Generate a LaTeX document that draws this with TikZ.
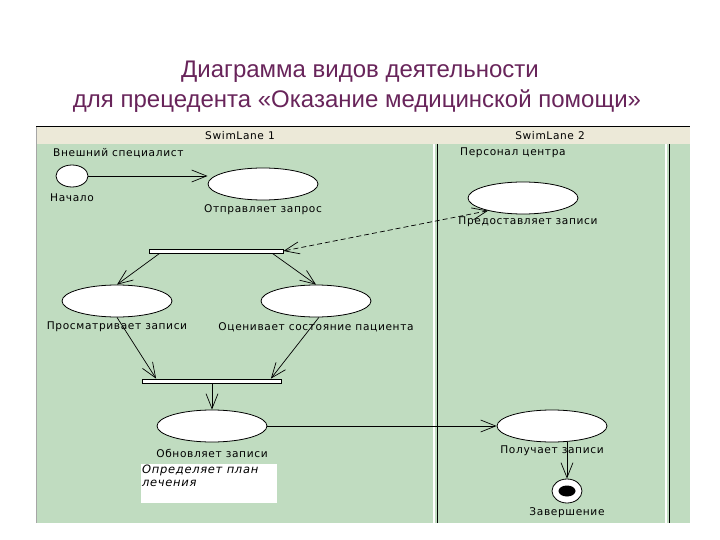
\documentclass[tikz,border=0pt]{standalone}
\usepackage{fontspec}
\setmainfont{Liberation Sans}
\newfontfamily\lanefont[LetterSpace=6]{DejaVu Sans}
\usetikzlibrary{arrows.meta, shapes.geometric, positioning, calc}
\definecolor{lanegreen}{RGB}{192,220,192}
\definecolor{headbeige}{RGB}{236,233,216}
\definecolor{titleplum}{RGB}{104,36,90}

\begin{document}
\begin{tikzpicture}[x=1pt, y=-1pt,
    activity/.style={ellipse, draw, fill=white, line width=0.8pt, minimum width=110pt, minimum height=32pt, inner sep=0pt},
    syncbar/.style={rectangle, draw, fill=white, line width=0.8pt, minimum height=4pt, inner sep=0pt},
    lbl/.style={font=\lanefont\fontsize{10.6}{12}\selectfont, inner sep=0pt},
    flow/.style={-{Straight Barb[length=15pt,width=12pt]}, line width=0.7pt}]
  \useasboundingbox (0,0) rectangle (720,540);
  % title
  \node[text=titleplum, font=\fontsize{24}{28}\selectfont, anchor=base] (title1) at (360,78) {Диаграмма видов деятельности};
  \node[text=titleplum, font=\fontsize{24}{28}\selectfont, anchor=base] (title2) at (357,108) {для прецедента «Оказание медицинской помощи»};
  % swimlanes
  \fill[lanegreen] (36,144) rectangle (690,523);
  \fill[headbeige] (36,127) rectangle (690,144);
  \draw[line width=1pt] (36,127) -- (690,127);
  \draw[gray!70] (36,127) -- (36,523);
  \foreach \x in {434, 666} \draw[white, line width=1.5pt] (\x,144) -- (\x,523);
  \foreach \x in {437, 669} \draw[line width=0.9pt] (\x,144) -- (\x,523);
  \node[lbl] (lane1) at (240,136) {SwimLane 1};
  \node[lbl] (lane2) at (550,136) {SwimLane 2};
  \node[lbl, anchor=west] (who1) at (53,153) {Внешний специалист};
  \node[lbl, anchor=west] (who2) at (460,153) {Персонал центра};

  % activities
  \node[ellipse, draw, fill=white, line width=0.8pt, minimum width=32pt, minimum height=22pt, inner sep=0pt] (start) at (72,176) {};
  \node[lbl] at (72,198) {Начало};
  \node[activity] (send) at (263,184) {};
  \node[lbl] at (263,210) {Отправляет запрос};
  \node[activity] (give) at (523,198) {};
  \node[lbl] at (528,222) {Предоставляет записи};
  \node[syncbar, minimum width=134pt] (fork) at (216,251) {};
  \node[activity] (view) at (117,301) {};
  \node[lbl] at (117,327) {Просматривает записи};
  \node[activity] (rate) at (316,301) {};
  \node[lbl] at (316,327) {Оценивает состояние пациента};
  \node[syncbar, minimum width=139pt] (join) at (212,381) {};
  \node[activity] (upd) at (212,426) {};
  \node[lbl] at (212,453) {Обновляет записи};
  \node[activity] (recv) at (552,426) {};
  \node[lbl] at (552,451) {Получает записи};
  \node[ellipse, draw, fill=white, line width=0.8pt, minimum width=30pt, minimum height=24pt, inner sep=0pt] (stop) at (567,491) {};
  \fill (stop.center) ellipse (8.5 and 5.5);
  \node[lbl] at (567,513) {Завершение};
  \node[fill=white, minimum width=136pt, minimum height=39pt, anchor=north west, inner sep=0pt] (note) at (141,464) {};
  \node[font=\lanefont\itshape\fontsize{11.5}{12.5}\selectfont, align=left, anchor=north west, inner sep=1pt] at (note.north west) {Определяет план\\лечения};

  % transitions
  \draw[flow] (start.east) -- (send.west |- start.east);
  \draw[flow, dashed, dash pattern=on 5pt off 3pt, {Straight Barb[length=15pt,width=12pt]}-{Straight Barb[length=15pt,width=12pt]}] (give.200) -- (fork.east);
  \draw[flow] ([xshift=11pt]fork.south west) -- (view.north);
  \draw[flow] ([xshift=-11pt]fork.south east) -- (rate.north);
  \draw[flow] (view.south) -- ([xshift=14pt]join.north west);
  \draw[flow] (rate.-80) -- ([xshift=-11pt]join.north east);
  \draw[flow] (join.south) -- (upd.north);
  \draw[flow] (upd.east) -- (recv.west);
  \draw[flow] (recv.south -| stop.north) -- (stop.north);
\end{tikzpicture}
\end{document}
